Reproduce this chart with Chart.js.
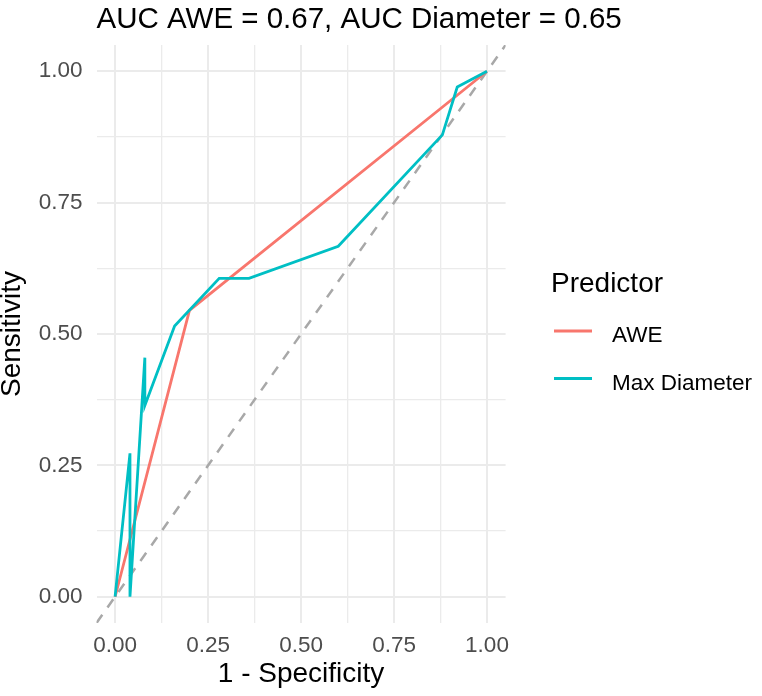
<!DOCTYPE html>
<html>
<head>
<meta charset="utf-8">
<script src="https://cdn.jsdelivr.net/npm/chart.js@4/dist/chart.umd.min.js"></script>
<style>
  html, body { margin: 0; padding: 0; background: #fff; }
</style>
</head>
<body>
<canvas id="roc" width="762" height="696"></canvas>
<script>
// ROC points for AWE
const aweFpr = [0, 0.2, 1];
const aweTpr = [0, 0.545, 1];

// ROC points for Max Diameter (kept in plotting order)
const diamFpr = [0, 0.04, 0.04, 0.08, 0.08, 0.16, 0.28, 0.36, 0.6, 0.88, 0.92, 1];
const diamTpr = [0, 0.273, 0, 0.455, 0.364, 0.515, 0.606, 0.606, 0.667, 0.879, 0.97, 1];

// chance diagonal
const refX = [-0.05, 1.05];
const refY = [-0.05, 1.05];

const gridValues = [0, 0.125, 0.25, 0.375, 0.5, 0.625, 0.75, 0.875, 1];
const legendNames = ["AWE", "Max Diameter"];
const lineColors = ["#F8766D", "#00BFC4"];
const titleText = "AUC AWE = 0.67, AUC Diameter = 0.65";

const FONT = '"Liberation Sans", Arial, Helvetica, sans-serif';
Chart.defaults.font.family = FONT;

const toPoints = (xs, ys) => xs.map((x, i) => ({ x: x, y: ys[i] }));
const isMajor = v => Math.abs(v * 4 - Math.round(v * 4)) < 1e-6;

// title and legend drawn by hand so they sit where ggplot puts them
const sideBits = {
  id: "sideBits",
  afterDraw(chart) {
    const ctx = chart.ctx;
    ctx.save();
    ctx.fillStyle = "#000";
    ctx.textAlign = "left";
    ctx.textBaseline = "alphabetic";
    ctx.font = "29.5px " + FONT;
    ctx.fillText(titleText, chart.chartArea.left, 28);

    ctx.font = "28px " + FONT;
    ctx.fillText("Predictor", 551, 291.5);

    legendNames.forEach((name, i) => {
      const y = 331 + i * 47.5;
      ctx.strokeStyle = lineColors[i];
      ctx.lineWidth = 3;
      ctx.beginPath();
      ctx.moveTo(554, y);
      ctx.lineTo(592, y);
      ctx.stroke();
      ctx.font = "22.5px " + FONT;
      ctx.fillText(name, 612, y + 11);
    });
    ctx.restore();
  }
};

const gridOpts = {
  color: "#EBEBEB",
  lineWidth: c => (c.tick && isMajor(c.tick.value) ? 2 : 1.3),
  drawTicks: false
};

const ctx = document.getElementById("roc").getContext("2d");
const roc = new Chart(ctx, {
  type: "scatter",
  data: {
    datasets: [
      {
        label: legendNames[1],
        data: toPoints(diamFpr, diamTpr),
        showLine: true,
        borderColor: lineColors[1],
        borderWidth: 2.8,
        pointRadius: 0,
        tension: 0
      },
      {
        label: legendNames[0],
        data: toPoints(aweFpr, aweTpr),
        showLine: true,
        borderColor: lineColors[0],
        borderWidth: 2.8,
        pointRadius: 0,
        tension: 0
      },
      {
        label: "chance",
        data: toPoints(refX, refY),
        showLine: true,
        borderColor: "#A8A8A8",
        borderWidth: 2.5,
        borderDash: [10, 9],
        pointRadius: 0
      }
    ]
  },
  options: {
    responsive: false,
    animation: false,
    layout: { padding: { left: 0, right: 256.4, top: 45, bottom: 0 } },
    plugins: {
      legend: { display: false },
      title: { display: false },
      tooltip: { enabled: false }
    },
    scales: {
      x: {
        type: "linear",
        min: -0.05,
        max: 1.05,
        afterBuildTicks: s => { s.ticks = gridValues.map(v => ({ value: v })); },
        afterFit: s => { s.height = 73; },
        grid: gridOpts,
        border: { display: false },
        ticks: {
          autoSkip: false,
          maxRotation: 0,
          padding: 9.7,
          color: "#4D4D4D",
          font: { size: 22.5 },
          callback: v => (isMajor(v) ? v.toFixed(2) : "")
        },
        title: {
          display: true,
          text: "1 - Specificity",
          color: "#000",
          font: { size: 28 },
          padding: { top: 0, bottom: 5.2 }
        }
      },
      y: {
        type: "linear",
        min: -0.05,
        max: 1.05,
        afterBuildTicks: s => { s.ticks = gridValues.map(v => ({ value: v })); },
        afterFit: s => { s.width = 96.5; },
        grid: gridOpts,
        border: { display: false },
        ticks: {
          autoSkip: false,
          padding: 14,
          color: "#4D4D4D",
          font: { size: 22.5 },
          callback: v => (isMajor(v) ? v.toFixed(2) : "")
        },
        title: {
          display: true,
          text: "Sensitivity",
          color: "#000",
          font: { size: 28, lineHeight: 0.88 },
          padding: 0
        }
      }
    }
  },
  plugins: [sideBits]
});
</script>
</body>
</html>
